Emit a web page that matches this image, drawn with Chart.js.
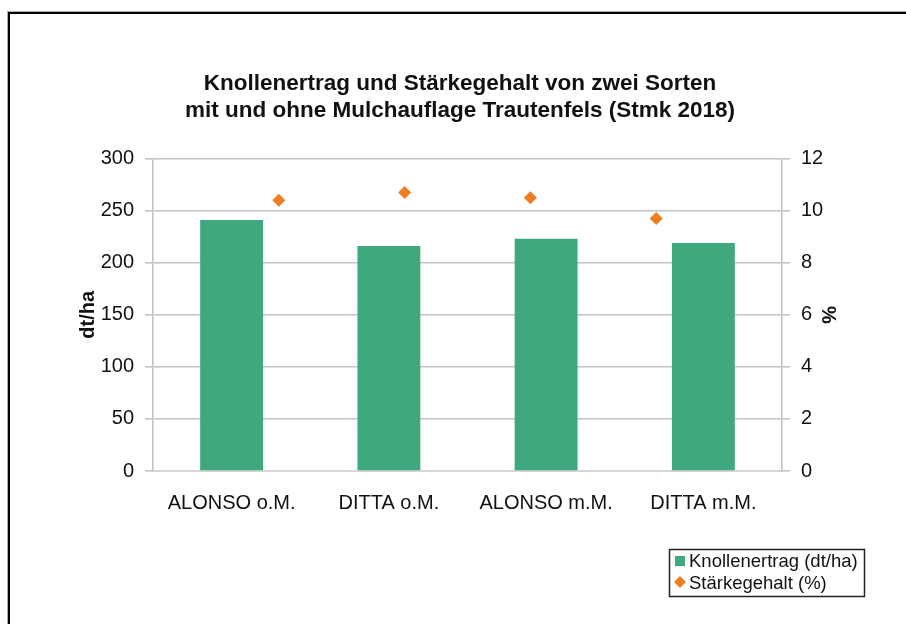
<!DOCTYPE html>
<html lang="de">
<head>
<meta charset="UTF-8">
<title>Knollenertrag und Stärkegehalt</title>
<style>
* { margin: 0; padding: 0; box-sizing: border-box; }
body { width: 906px; height: 624px; overflow: hidden; background: #fff; position: relative; }
canvas { position: absolute; left: 0; top: 0; }
/* outer frame, cut off at right and bottom like the original */
#frame {
    position: absolute; left: 8px; top: 12px; width: 1000px; height: 700px;
    border-left: 2px solid #000; border-top: 2px solid #000;
    box-shadow: -1px -1px 0 #aaa; pointer-events: none;
}
</style>
</head>
<body>
<canvas id="chart" width="906" height="624"></canvas>
<div id="frame"></div>
<script src="https://cdn.jsdelivr.net/npm/chart.js"></script>
<script>
// data
const categories = ['ALONSO o.M.', 'DITTA o.M.', 'ALONSO m.M.', 'DITTA m.M.'];
const yieldValues = [241, 216, 223, 219];      // dt/ha
const starchValues = [10.4, 10.7, 10.5, 9.7];  // %
const yieldTicks = [0, 50, 100, 150, 200, 250, 300];
const starchTicks = [0, 2, 4, 6, 8, 10, 12];
const titleLines = ['Knollenertrag und Stärkegehalt von zwei Sorten', 'mit und ohne Mulchauflage Trautenfels (Stmk 2018)'];

const green = '#3fa87c';
const orange = '#ee7d22';
const gridColor = '#c4c4c4';

Chart.defaults.font.family = "'Liberation Sans', Arial, sans-serif";
Chart.defaults.color = '#111';

// legend with a frame, as in the Excel chart
const legendBox = {
    id: 'legendBox',
    afterDraw(chart) {
        const ctx = chart.ctx;
        const ds = chart.data.datasets;
        ctx.save();
        ctx.fillStyle = '#fff';
        ctx.fillRect(669, 549, 196, 48);
        ctx.strokeStyle = '#222';
        ctx.lineWidth = 1.5;
        ctx.strokeRect(669.5, 549.5, 195, 47);
        ctx.font = "18.5px 'Liberation Sans', Arial, sans-serif";
        ctx.textBaseline = 'middle';
        // bars
        ctx.fillStyle = ds[0].backgroundColor;
        ctx.fillRect(675, 556, 10, 10);
        ctx.fillStyle = '#111';
        ctx.fillText(ds[0].label, 689, 562);
        // diamonds
        ctx.fillStyle = ds[1].backgroundColor;
        ctx.beginPath();
        ctx.moveTo(680, 576); ctx.lineTo(686, 582); ctx.lineTo(680, 588); ctx.lineTo(674, 582);
        ctx.closePath(); ctx.fill();
        ctx.fillStyle = '#111';
        ctx.fillText(ds[1].label, 689, 584);
        ctx.restore();
    }
};

new Chart(document.getElementById('chart'), {
    type: 'bar',
    data: {
        labels: categories,
        datasets: [
            {
                label: 'Knollenertrag (dt/ha)',
                data: yieldValues,
                backgroundColor: green,
                grouped: false,
                barPercentage: 0.4,
                categoryPercentage: 1,
                xAxisID: 'x',
                yAxisID: 'y',
                order: 2
            },
            {
                type: 'scatter',
                label: 'Stärkegehalt (%)',
                data: starchValues.map((v, i) => ({ x: i + 1, y: v })),
                backgroundColor: orange,
                borderColor: orange,
                pointStyle: 'rectRot',
                pointRadius: 6.5,
                borderWidth: 0,
                xAxisID: 'x2',
                yAxisID: 'y2',
                order: 1
            }
        ]
    },
    options: {
        responsive: false,
        animation: false,
        devicePixelRatio: 1,
        layout: { padding: { left: 14, right: 0, top: 0, bottom: 0 } },
        plugins: {
            legend: { display: false },
            tooltip: { enabled: false },
            title: {
                display: true,
                text: titleLines,
                color: '#111',
                font: { size: 22.5, weight: 'bold', lineHeight: 1.17 },
                padding: { top: 71, bottom: 35 }
            }
        },
        scales: {
            x: {
                type: 'category',
                grid: { display: false, drawTicks: false },
                border: { display: true, color: '#d6d6d6', width: 2 },
                ticks: { font: { size: 20 }, padding: 20, color: '#111' },
                afterFit: s => { s.height = 153; }
            },
            x2: {
                type: 'linear',
                display: false,
                offset: false,
                grid: { offset: false },
                min: 0,
                max: categories.length + 1
            },
            y: {
                position: 'left',
                min: 0,
                max: 300,
                afterBuildTicks: s => { s.ticks = yieldTicks.map(v => ({ value: v })); },
                grid: { color: gridColor, lineWidth: 1.6, tickLength: 8 },
                border: { display: true, color: gridColor, width: 1.6 },
                ticks: { font: { size: 20 }, padding: 11, color: '#111' },
                title: {
                    display: true,
                    text: 'dt/ha',
                    color: '#111',
                    font: { size: 20, weight: 'bold' },
                    padding: { top: 62 }
                },
                afterFit: s => { s.width = 139; }
            },
            y2: {
                position: 'right',
                min: 0,
                max: 12,
                afterBuildTicks: s => { s.ticks = starchTicks.map(v => ({ value: v })); },
                grid: { drawOnChartArea: false, color: gridColor, lineWidth: 1.6, tickLength: 8 },
                border: { display: true, color: gridColor, width: 1.6 },
                ticks: { font: { size: 20 }, padding: 11, color: '#111' },
                title: {
                    display: true,
                    text: '%',
                    color: '#111',
                    font: { size: 20, weight: 'bold' },
                    padding: { top: 66 }
                },
                afterFit: s => { s.width = 124; }
            }
        }
    },
    plugins: [legendBox]
});
</script>
</body>
</html>
